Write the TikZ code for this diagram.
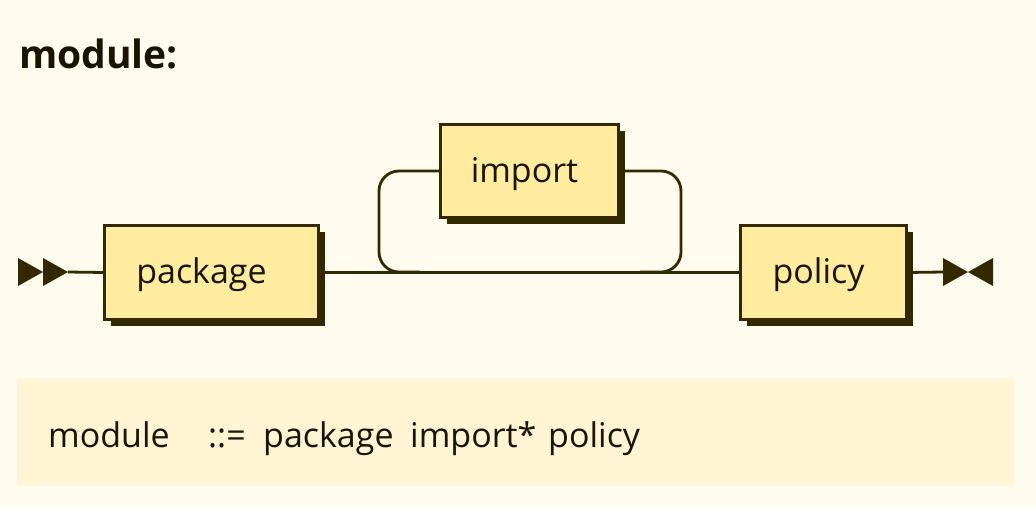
\documentclass[tikz,border=0pt]{standalone}
\usepackage{fontspec}
\setmainfont{Open Sans}
\usetikzlibrary{shadows,backgrounds}
\definecolor{bg}{HTML}{FFFCEF}
\definecolor{ebnfbg}{HTML}{FFF4D3}
\definecolor{boxfill}{HTML}{FFEC9E}
\definecolor{ink}{HTML}{332900}
\definecolor{txt}{HTML}{1A1500}
\begin{document}
\begin{tikzpicture}[x=1pt,y=-1pt,
  nt/.style={draw=ink, line width=2.6pt, fill=boxfill, rectangle, inner sep=0pt, outer sep=0pt,
    drop shadow={shadow xshift=6pt, shadow yshift=-6pt, fill=ink, opacity=1}},
  lbl/.style={anchor=base, text=txt, font=\fontsize{34}{40}\selectfont, inner sep=0pt},
  ebnf/.style={anchor=base west, inner sep=0pt, text=txt, font=\fontsize{34}{40}\selectfont},
  rail/.style={draw=ink, line width=2.8pt},
  tip/.style={fill=ink}
]
\useasboundingbox (0,0) rectangle (1036,507);
% boxes
\node[nt, minimum width=214pt, minimum height=94pt] (pkg) at (211.5,272.5) {};
\node[nt, minimum width=178pt, minimum height=93pt] (imp) at (529.5,171) {};
\node[nt, minimum width=166pt, minimum height=94pt] (pol) at (823.5,272.5) {};
\node[lbl] (pkgt) at (201.5,283) {package};
\node[lbl] (impt) at (524.5,182) {import};
\node[lbl] (polt) at (818.5,283) {policy};
% title
\node[anchor=base west, inner sep=0pt, text=txt, font=\bfseries\fontsize{39}{45}\selectfont] (title) at (19,68) {module:};
% ebnf
\node[ebnf] (ebl) at (48,447) {module};
\node[ebnf] (ebd) at (208,447) {::=};
\node[ebnf] (eb1) at (263,447) {package};
\node[ebnf] (eb2) at (410,447) {import*};
\node[ebnf] (eb3) at (548,447) {policy};
\begin{scope}[on background layer]
\fill[bg] (0,0) rectangle (1036,507);
\fill[ebnfbg] (17,378) rectangle (1014,486);
\coordinate (s) at (68,272);
\coordinate (e) at (943,272);
\coordinate (la) at (420,272);
\coordinate (ra) at (640,272);
\fill[tip] (18,258) -- (43,272) -- (18,286) -- cycle;
\fill[tip] (43,258) -- (68,272) -- (43,286) -- cycle;
\fill[tip] (943,258) -- (968,272) -- (943,286) -- cycle;
\fill[tip] (993,258) -- (968,272) -- (993,286) -- cycle;
\draw[rail] (s) -- (pkg.west);
\draw[rail] (pkg.east) -- (pol.west);
\draw[rail] (pol.east) -- (e);
\draw[rail, rounded corners=20pt] (la) -- (379,272) -- (379,171) -- (imp.west);
\draw[rail, rounded corners=20pt] (imp.east) -- (681,171) -- (681,272) -- (ra);
\end{scope}
\end{tikzpicture}
\end{document}
